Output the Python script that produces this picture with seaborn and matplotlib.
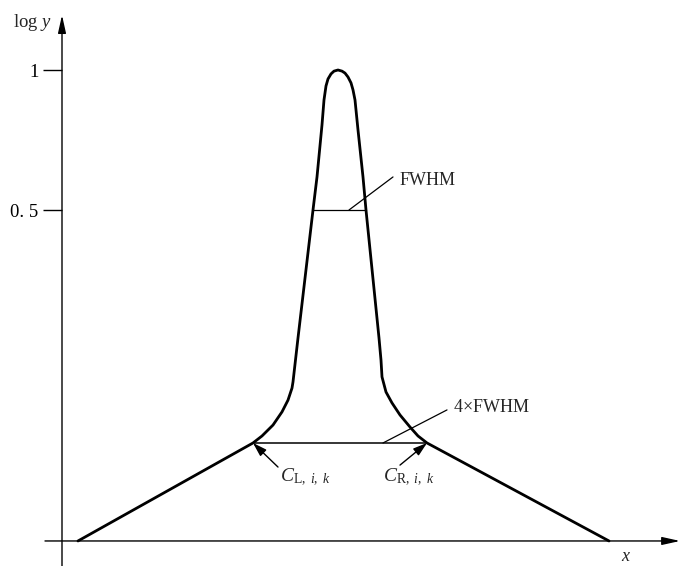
import matplotlib
matplotlib.use("Agg")
import matplotlib.pyplot as plt
import seaborn as sns
import pandas as pd

sns.set_theme(style="white")
plt.rcParams["font.family"] = ["Liberation Serif", "DejaVu Serif"]
plt.rcParams["mathtext.fontset"] = "custom"
plt.rcParams["mathtext.rm"] = "Liberation Serif"
plt.rcParams["mathtext.it"] = "Liberation Serif:italic"

# ---- data (schematic) ----
curve_x = [78, 253, 262, 273, 282, 288, 292, 293, 298, 313, 317, 322, 324, 326, 328,
           331, 334, 338, 342, 345, 348, 351, 353, 355, 358, 363, 366, 379, 381, 382,
           386, 392, 400, 410, 418, 427, 609]
curve_logy = [-0.682, -0.332, -0.307, -0.268, -0.221, -0.179, -0.136, -0.114, 0.043,
              0.500, 0.618, 0.804, 0.893, 0.943, 0.968, 0.986, 0.996, 1.000, 0.996,
              0.989, 0.975, 0.954, 0.929, 0.893, 0.786, 0.618, 0.500, 0.043, -0.036,
              -0.096, -0.150, -0.189, -0.232, -0.275, -0.307, -0.332, -0.682]
baseline = -0.682
fwhm_x = [313, 366]
fwhm_y = 0.5
w4_x = [253, 427]
w4_y = -0.332
ytick_vals = [1.0, 0.5]
ytick_labels = ["1", "0. 5"]

fig = plt.figure(figsize=(6.81, 5.66), dpi=100)
ax = fig.add_axes([0, 0, 1, 1])
ax.set_xlim(0, 681)
ax.set_ylim(-0.7714, 1.25)

df = pd.DataFrame({"x": curve_x, "logy": curve_logy})
sns.lineplot(data=df, x="x", y="logy", sort=False, ax=ax, color="black",
             lw=2.0, solid_joinstyle="round", solid_capstyle="round")

# FWHM and 4xFWHM lines
ax.plot(fwhm_x, [fwhm_y, fwhm_y], color="black", lw=0.9)
ax.plot(w4_x, [w4_y, w4_y], color="black", lw=1.1)

# leaders and texts
ax.plot([349, 393], [fwhm_y, 0.618], color="black", lw=0.9)
ax.text(400, 0.607, "FWHM", fontsize=13, va="center", ha="left")
ax.plot([383, 447], [w4_y, -0.214], color="black", lw=0.9)
ax.text(453, -0.207, r"4$\times$FWHM", fontsize=13, va="center", ha="left")

arrow_kw = dict(arrowstyle="-|>,head_length=0.7,head_width=0.22", color="black", lw=1.0,
                shrinkA=0, shrinkB=0)
ax.annotate("", xy=(253, w4_y), xytext=(278, -0.418), arrowprops=arrow_kw)
ax.annotate("", xy=(427, w4_y), xytext=(400, -0.411), arrowprops=arrow_kw)
ax.text(280, -0.455, r"$C_{\mathrm{L},\ i,\ k}$", fontsize=14, va="center", ha="left")
ax.text(383, -0.455, r"$C_{\mathrm{R},\ i,\ k}$", fontsize=14, va="center", ha="left")

# axes with arrows
ax_kw = dict(arrowstyle="-|>,head_length=0.9,head_width=0.2", color="black", lw=1.0,
             shrinkA=0, shrinkB=0)
ax.annotate("", xy=(680, baseline), xytext=(45, baseline), arrowprops=ax_kw)
ax.annotate("", xy=(62, 1.196), xytext=(62, -0.7714), arrowprops=ax_kw)
ax.text(626, -0.739, "$x$", fontsize=13, va="center", ha="center")
ax.text(13, 1.171, "log $y$", fontsize=13.5, va="center", ha="left")

# ticks on y axis
for s in ax.spines.values():
    s.set_visible(False)
ax.spines["left"].set_position(("data", 62))
ax.set_xticks([])
ax.set_yticks(ytick_vals)
ax.set_yticklabels(ytick_labels, fontsize=13.5)
ax.tick_params(axis="y", direction="out", length=14, width=1.0, color="black",
               left=True, pad=3, labelcolor="black")
ax.yaxis.set_ticks_position("left")
ax.set_xlabel("")
ax.set_ylabel("")
ax.grid(False)

fig.savefig("out.png", dpi=100)
